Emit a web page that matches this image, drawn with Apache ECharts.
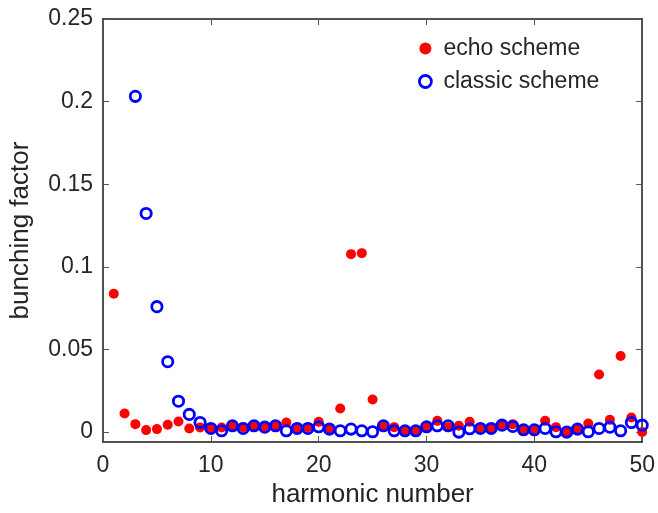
<!DOCTYPE html>
<html>
<head>
<meta charset="utf-8">
<script src="https://cdn.jsdelivr.net/npm/echarts@6/dist/echarts.min.js"></script>
<style>html,body{margin:0;padding:0;background:#fff}#c{width:658px;height:513px}</style>
</head>
<body>
<div id="c"></div>
<script>
const harmonic = Array.from({length: 50}, (_, i) => i + 1);
const echoScheme = [
  0.0837, 0.0113, 0.0048, 0.0012, 0.0018, 0.0044, 0.0064, 0.0022, 0.0028, 0.0022,
  0.0028, 0.0038, 0.0030, 0.0038, 0.0030, 0.0034, 0.0058, 0.0025, 0.0030, 0.0062,
  0.0022, 0.0143, 0.1077, 0.1083, 0.0197, 0.0038, 0.0030, 0.0008, 0.0008, 0.0030,
  0.0068, 0.0030, 0.0038, 0.0062, 0.0018, 0.0018, 0.0048, 0.0048, 0.0012, 0.0008,
  0.0068, 0.0030, 0.0002, 0.0022, 0.0052, 0.0349, 0.0074, 0.0460, 0.0088, 0.0000
];
const classicScheme = [
  null, null, 0.2032, 0.1323, 0.0759, 0.0426, 0.0187, 0.0107, 0.0058, 0.0022,
  0.0008, 0.0038, 0.0022, 0.0038, 0.0030, 0.0038, 0.0008, 0.0022, 0.0022, 0.0032,
  0.0018, 0.0008, 0.0018, 0.0008, 0.0002, 0.0038, 0.0008, 0.0008, 0.0008, 0.0032,
  0.0038, 0.0038, 0.0000, 0.0020, 0.0022, 0.0022, 0.0042, 0.0034, 0.0014, 0.0014,
  0.0022, 0.0002, 0.0000, 0.0018, 0.0002, 0.0022, 0.0030, 0.0008, 0.0058, 0.0042
];
const yTicks = [0, 0.05, 0.1, 0.15, 0.2, 0.25];
const xTicks = [0, 10, 20, 30, 40, 50];

const FONT = "'Liberation Sans', Arial, Helvetica, sans-serif";
const TXT = '#262626';
const AX = '#1a1a1a';
const pair = (xs, ys) => xs.map((x, i) => [x, ys[i]]).filter(p => p[1] !== null);

const chart = echarts.init(document.getElementById('c'), null, {renderer: 'canvas'});
const axisBase = {
  axisLine: {show: true, onZero: false, lineStyle: {color: AX, width: 1.5}},
  axisTick: {show: true, inside: true, length: 6, lineStyle: {color: '#555', width: 1}},
  splitLine: {show: false}
};
chart.setOption({
  animation: false,
  backgroundColor: '#fff',
  grid: {left: 103, right: 13, top: 19, bottom: 70, containLabel: false},
  legend: {
    orient: 'vertical', left: 413, top: 32, itemGap: 10,
    itemWidth: 12, itemHeight: 12,
    textStyle: {fontFamily: FONT, fontSize: 23, color: TXT, lineHeight: 23, padding: [0, 0, 0, 7]},
    data: [
      {name: 'echo scheme', icon: 'circle', itemStyle: {color: '#ff0000', borderWidth: 0}},
      {name: 'classic scheme', icon: 'circle', itemStyle: {color: '#ffffff', borderColor: '#0000ff', borderWidth: 2.8}}
    ]
  },
  xAxis: [
    Object.assign({}, axisBase, {
      type: 'value', min: 0, max: 50, interval: 10, position: 'bottom',
      name: 'harmonic number', nameLocation: 'middle', nameGap: 40,
      nameTextStyle: {fontFamily: FONT, fontSize: 26, color: TXT},
      axisLabel: {fontFamily: FONT, fontSize: 23, color: TXT, margin: 12}
    }),
    Object.assign({}, axisBase, {
      type: 'value', min: 0, max: 50, interval: 10, position: 'top',
      axisLabel: {show: false}
    })
  ],
  yAxis: [
    Object.assign({}, axisBase, {
      type: 'value', min: -0.006, max: 0.25, position: 'left',
      name: 'bunching factor', nameLocation: 'middle', nameGap: 69, nameRotate: 90,
      nameTextStyle: {fontFamily: FONT, fontSize: 26, color: TXT},
      axisTick: Object.assign({}, axisBase.axisTick, {customValues: yTicks}),
      axisLabel: {fontFamily: FONT, fontSize: 23, color: TXT, margin: 10, customValues: yTicks,
        formatter: v => String(+v.toFixed(3))}
    }),
    Object.assign({}, axisBase, {
      type: 'value', min: -0.006, max: 0.25, position: 'right',
      axisTick: Object.assign({}, axisBase.axisTick, {customValues: yTicks}),
      axisLabel: {show: false, customValues: yTicks}
    })
  ],
  series: [
    {
      name: 'echo scheme', type: 'scatter', xAxisIndex: 0, yAxisIndex: 0,
      data: pair(harmonic, echoScheme), symbol: 'circle', symbolSize: 10,
      itemStyle: {color: '#ff0000', opacity: 1}, z: 2
    },
    {
      name: 'classic scheme', type: 'scatter', xAxisIndex: 0, yAxisIndex: 0,
      data: pair(harmonic, classicScheme), symbol: 'circle', symbolSize: 10.3,
      itemStyle: {color: 'rgba(255,255,255,0)', borderColor: '#0000ff', borderWidth: 2.8, opacity: 1}, z: 3
    }
  ]
});
</script>
</body>
</html>
